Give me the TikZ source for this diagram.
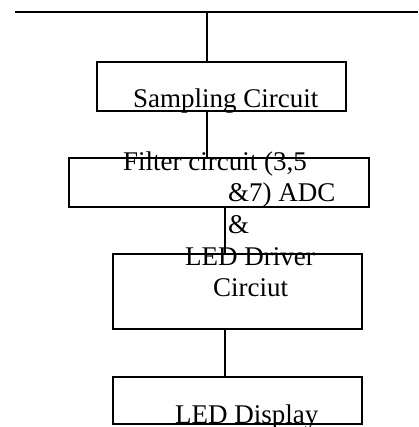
\documentclass[tikz,border=0pt]{standalone}
\usepackage{fontspec}
\setmainfont{Liberation Serif}
\usetikzlibrary{positioning}

\begin{document}
\begin{tikzpicture}[
    x=1pt, y=1pt,
    bbox/.style={draw, line width=1.3pt, inner sep=0, minimum width=249pt},
    btext/.style={inner sep=0, anchor=base west, font=\fontsize{27}{31}\selectfont, align=left},
    wire/.style={line width=1.3pt, draw=black}
]
\useasboundingbox (0,0) rectangle (418,427);

% Bus
\coordinate (busl) at (15,415);
\coordinate (busr) at (418,415);
\coordinate (tap) at (207,415);
\coordinate (drop) at (225,0);
\draw[wire] (busl) -- (busr);

% Sampling Circuit
\node[bbox, minimum height=49pt] (sampling) at (221.5,340.5) {};
\node[btext] (samplingtext) at (133,319) {Sampling Circuit};

% Filter / ADC (base = last line)
\node[bbox, minimum width=300pt, minimum height=49pt] (filter) at (219,244.5) {};
\node[btext] (filtertext) at (123,225) {Filter circuit (3,5\\\hspace*{105pt}\&7) ADC};

% LED Driver
\node[bbox, minimum height=75pt] (driver) at (237.5,135.5) {};
\node[btext] (drivertext) at (185,130) {\hspace*{43pt}\&\\[1pt]LED Driver\\\hspace*{28pt}Circiut};

% LED Display
\node[bbox, minimum height=47pt] (display) at (237.5,26.5) {};
\node[btext] (displaytext) at (175,4) {LED Display};

% wires
\draw[wire] (tap) -- (tap |- sampling.north);
\draw[wire] (tap |- sampling.south) -- (tap |- filter.north);
\draw[wire] (drop |- filter.south) -- (drop |- driver.north);
\draw[wire] (drop |- driver.south) -- (drop |- display.north);

\end{tikzpicture}
\end{document}
